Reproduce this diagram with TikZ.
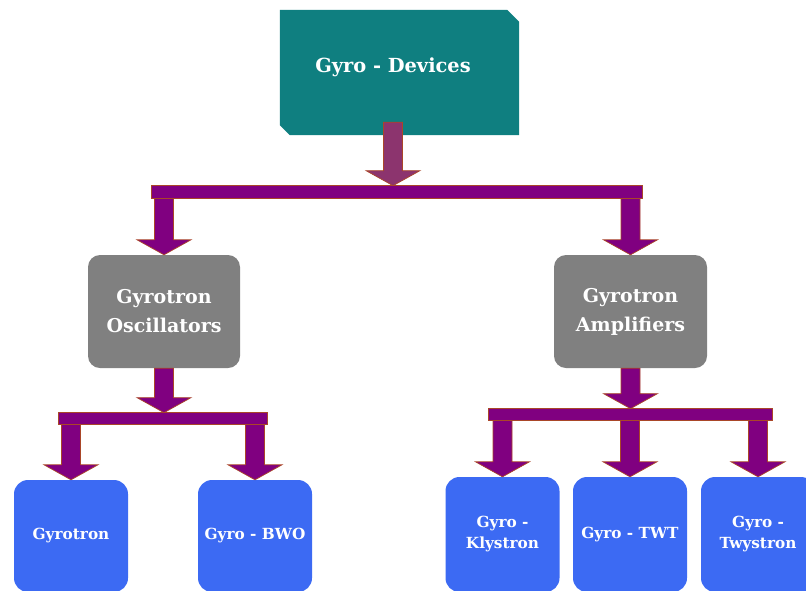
\documentclass[tikz,border=0pt]{standalone}
\usepackage{fontspec}
\setmainfont{DejaVu Serif}
\usetikzlibrary{calc,backgrounds}
\definecolor{tealbox}{RGB}{15,127,128}
\definecolor{grayboxc}{RGB}{128,128,128}
\definecolor{blueboxc}{RGB}{60,106,243}
\definecolor{purplec}{RGB}{128,0,128}
\definecolor{mauvec}{RGB}{140,52,110}
\definecolor{edgec}{RGB}{170,70,40}
\newcommand\fatarrow[3][]{%
  \path[fatarrowstyle,#1] let \p1=#2, \p2=#3 in
   (\x1-9.5pt,\y1) -- (\x1+9.5pt,\y1) -- (\x1+9.5pt,\y2+15pt) -- (\x1+27pt,\y2+15pt)
   -- (\x1,\y2) -- (\x1-27pt,\y2+15pt) -- (\x1-9.5pt,\y2+15pt) -- cycle;}
\begin{document}
\begin{tikzpicture}[x=1pt,y=-1pt,
  fatarrowstyle/.style={fill=purplec,draw=edgec,line width=0.7pt,line join=miter},
  barstyle/.style={fill=purplec,draw=edgec,line width=0.7pt,inner sep=0pt},
  graybox/.style={fill=grayboxc,rounded corners=12pt,text=white,align=center,
     minimum width=152pt,minimum height=113pt,inner sep=0pt,
     font=\bfseries\fontsize{19}{29}\selectfont},
  bluebox/.style={fill=blueboxc,rounded corners=14pt,text=white,align=center,
     minimum width=114pt,inner sep=0pt,
     font=\bfseries\fontsize{15.3}{21}\selectfont},
  toptext/.style={text=white,inner sep=0pt,font=\bfseries\fontsize{19.4}{24}\selectfont}]
\useasboundingbox (0,0) rectangle (806,590);
\clip (0,0) rectangle (806,590);
% top box
\node[minimum width=239pt,minimum height=125pt,inner sep=0pt] (gdbox) at (399.5,72.5) {};
\fill[tealbox] (gdbox.north west) -- ($(gdbox.north east)+(-12,0)$) -- ($(gdbox.north east)+(0,12)$)
  -- (gdbox.south east) -- ($(gdbox.south west)+(10,0)$) -- ($(gdbox.south west)+(0,-10)$) -- cycle;
\node[toptext] (gd) at (393,67) {Gyro - Devices};
% bars
\node[barstyle,minimum width=490pt,minimum height=12pt] (bar1) at (397,192) {};
\node[barstyle,minimum width=208pt,minimum height=11pt] (bar2) at (163,418.5) {};
\node[barstyle,minimum width=283pt,minimum height=11pt] (bar3) at (630.5,414.5) {};
% gray boxes
\node[graybox] (gl) at (164,311.5) {Gyrotron\\Oscillators};
\node[graybox,minimum width=153pt] (gr) at (630.5,311.5) {Gyrotron\\Amplifiers};
% blue boxes
\node[bluebox,minimum height=112pt] (b1) at (71,536) {Gyrotron};
\node[bluebox,minimum height=112pt] (b2) at (255,536) {Gyro - BWO};
\node[bluebox,minimum height=115pt] (b3) at (502.5,534.5) {Gyro -\\Klystron};
\node[bluebox,minimum height=115pt] (b4) at (630,534.5) {Gyro - TWT};
\node[bluebox,minimum height=115pt] (b5) at (758,534.5) {Gyro -\\Twystron};
% arrows
\fatarrow[fill=mauvec]{($(gd.center |- gdbox.south)+(0,-13)$)}{(gd.center |- bar1.north)}
\fatarrow{(gl.north |- bar1.south)}{(gl.north)}
\fatarrow{(gr.north |- bar1.south)}{(gr.north)}
\fatarrow{(gl.south)}{(gl.south |- bar2.north)}
\fatarrow{(gr.south)}{(gr.south |- bar3.north)}
\fatarrow{(b1.north |- bar2.south)}{(b1.north)}
\fatarrow{(b2.north |- bar2.south)}{(b2.north)}
\fatarrow{(b3.north |- bar3.south)}{(b3.north)}
\fatarrow{(b4.north |- bar3.south)}{(b4.north)}
\fatarrow{(b5.north |- bar3.south)}{(b5.north)}
% redraw bars on top of arrow shafts
\path[barstyle] (bar1.north west) rectangle (bar1.south east);
\path[barstyle] (bar2.north west) rectangle (bar2.south east);
\path[barstyle] (bar3.north west) rectangle (bar3.south east);
\end{tikzpicture}
\end{document}
